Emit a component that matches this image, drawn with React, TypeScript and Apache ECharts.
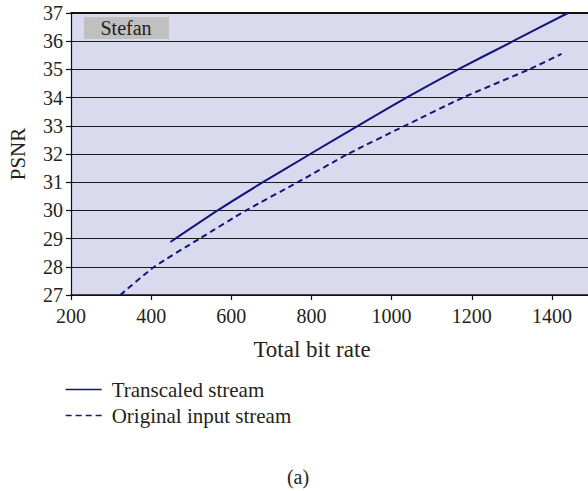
import React, { useEffect, useRef } from "react";
import * as echarts from "echarts";

// Rate–distortion curves for the "Stefan" sequence
const transcaledRate = [448, 566, 679, 797, 916, 1037, 1166, 1303, 1440];
const transcaledPsnr = [28.88, 30, 31, 32, 33, 34, 35, 36, 37];

const originalRate = [323, 408, 521, 637, 766, 891, 1033, 1178, 1343, 1424];
const originalPsnr = [27, 28, 29, 30, 31, 32, 33, 34, 35, 35.55];

const xTicks = { min: 200, max: 1500, interval: 200 };
const yTicks = { min: 27, max: 37, interval: 1 };

const seriesNames = ["Transcaled stream", "Original input stream"];
const sequenceName = "Stefan";

const FONT = "Liberation Serif";
const INK = "#231f20";
const NAVY = "#14147e";

const pairs = (xs: number[], ys: number[]) => xs.map((x, i) => [x, ys[i]]);

export default function App() {
  const ref = useRef<HTMLDivElement>(null);

  useEffect(() => {
    if (!ref.current) return;
    const chart = echarts.init(ref.current, null, { renderer: "svg" });
    chart.setOption({
      animation: false,
      backgroundColor: "#ffffff",
      textStyle: { fontFamily: FONT, color: INK },
      grid: {
        left: 71,
        top: 13,
        width: 521,
        height: 282,
        containLabel: false,
        outerBoundsMode: "none",
        show: true,
        backgroundColor: "#d9daee",
        borderWidth: 0,
      },
      xAxis: [
        {
          type: "value",
          min: xTicks.min,
          max: xTicks.max,
          interval: xTicks.interval,
          axisLine: { show: true, onZero: false, lineStyle: { color: "#111", width: 1.5 } },
          axisTick: { show: true, length: 5, lineStyle: { color: "#111", width: 1.2 } },
          axisLabel: {
            fontSize: 20,
            color: INK,
            fontFamily: FONT,
            margin: 11,
            showMaxLabel: false,
            formatter: (v: number) => String(v),
          },
          splitLine: { show: false },
        },
        {
          type: "value",
          position: "top",
          min: xTicks.min,
          max: xTicks.max,
          axisLine: { show: true, onZero: false, lineStyle: { color: "#111", width: 2 } },
          axisTick: { show: false },
          axisLabel: { show: false },
          splitLine: { show: false },
        },
      ],
      yAxis: {
        type: "value",
        min: yTicks.min,
        max: yTicks.max,
        interval: yTicks.interval,
        axisLine: { show: true, onZero: false, lineStyle: { color: "#111", width: 1.2 } },
        axisTick: { show: true, length: 5, lineStyle: { color: "#111", width: 1.2 } },
        axisLabel: {
          fontSize: 20,
          color: INK,
          fontFamily: FONT,
          margin: 8,
          formatter: (v: number) => String(v),
        },
        splitLine: { show: true, lineStyle: { color: "#1a1a1a", width: 1.2 } },
      },
      legend: {
        orient: "vertical",
        left: 65,
        top: 379,
        padding: 0,
        itemWidth: 36,
        itemHeight: 14,
        itemGap: 5,
        itemStyle: { opacity: 0 },
        lineStyle: { width: 1.3 },
        textStyle: {
          fontSize: 21,
          color: INK,
          fontFamily: FONT,
          padding: [0, 0, 0, 5],
        },
        data: seriesNames,
      },
      series: [
        {
          name: seriesNames[0],
          type: "line",
          data: pairs(transcaledRate, transcaledPsnr),
          symbol: "none",
          smooth: 0.2,
          lineStyle: { color: NAVY, width: 2 },
          itemStyle: { color: NAVY },
        },
        {
          name: seriesNames[1],
          type: "line",
          data: pairs(originalRate, originalPsnr),
          symbol: "none",
          smooth: 0.2,
          lineStyle: { color: NAVY, width: 2, type: [6, 4] },
          itemStyle: { color: NAVY },
        },
      ],
      graphic: [
        {
          type: "rect",
          shape: { x: 84, y: 17, width: 85, height: 22 },
          style: { fill: "#c0c0c0" },
          z: 10,
        },
        {
          type: "text",
          x: 126,
          y: 28,
          style: {
            text: sequenceName,
            fontSize: 20,
            fontFamily: FONT,
            fill: INK,
            align: "center",
            verticalAlign: "middle",
          },
          z: 11,
        },
        {
          type: "text",
          x: 18,
          y: 154,
          rotation: Math.PI / 2,
          style: {
            text: "PSNR",
            fontSize: 21,
            fontFamily: FONT,
            fill: INK,
            align: "center",
            verticalAlign: "middle",
          },
        },
        {
          type: "text",
          x: 312,
          y: 349,
          style: {
            text: "Total bit rate",
            fontSize: 23,
            fontFamily: FONT,
            fill: INK,
            align: "center",
            verticalAlign: "middle",
          },
        },
        {
          type: "text",
          x: 298,
          y: 477,
          style: {
            text: "(a)",
            fontSize: 20,
            fontFamily: FONT,
            fill: INK,
            align: "center",
            verticalAlign: "middle",
          },
        },
      ],
    });
    return () => chart.dispose();
  }, []);

  return (
    <div
      ref={ref}
      style={{ position: "fixed", left: 0, top: 0, width: 588, height: 491 }}
    />
  );
}
